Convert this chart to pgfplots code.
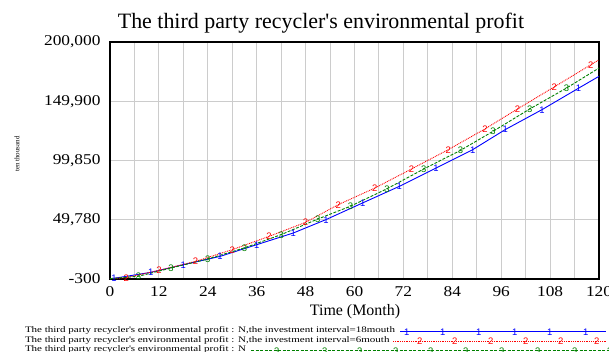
\documentclass[border=0pt]{standalone}
\usepackage{fontspec}
\setmainfont{Liberation Serif}
\newfontfamily\tickfont[FakeStretch=1.16]{Liberation Serif}
\newfontfamily\legfont[FakeStretch=1.3]{Liberation Serif}
\newfontfamily\markfont{Liberation Sans}
\usepackage{pgfplots}
\pgfplotsset{compat=1.18}
\newlength\legx
\newcommand\legtext{\legfont\fontsize{8.5}{9}\selectfont}
\newcommand\mk{\markfont\fontsize{9.5}{10}\selectfont}
\newcommand\ap{\textquotesingle}
\definecolor{cblue}{RGB}{0,0,255}
\definecolor{cred}{RGB}{255,0,0}
\definecolor{cgreen}{RGB}{0,128,0}
\begin{document}
\settowidth\legx{\legtext The third party recycler\ap s environmental profit : N,the investment interval=18mouth}%
\addtolength\legx{11bp}%
\begin{tikzpicture}
\begin{axis}[name=ax, scale only axis, width=489bp, height=237bp,
  xmin=0, xmax=120, ymin=-300, ymax=200000,
  xtick={0,12,...,120}, minor xtick={6,18,...,114},
  ytick={-300,49780,99850,149900,200000},
  yticklabels={-300,{49,780},{99,850},{149,900},{200,000}},
  scaled y ticks=false,
  /pgf/number format/assume math mode=true,
  xticklabel style={font=\tickfont\fontsize{15}{16}\selectfont, yshift=-4bp},
  yticklabel style={font=\tickfont\fontsize{15}{16}\selectfont, xshift=-6bp},
  grid=both,
  major grid style={black!20, line width=1bp},
  minor grid style={black!20, line width=1bp},
  major tick length=0pt, minor tick length=0pt,
  axis line style={line width=1.4bp},
  legend cell align=left, legend plot pos=right,
  legend style={at={(axis description cs:-0.1738,-0.2025)}, anchor=north west,
    draw=none, fill=none, inner sep=0pt, outer sep=0pt, row sep=0pt, column sep=11bp,
    font=\legtext, nodes={inner sep=0pt, text height=6bp, text depth=3.5bp}},
  text mark as node=true,
  text mark style={font=\mk, inner sep=0pt, text height=6.8bp, text depth=0pt},
]
\addplot[cblue, line width=0.9bp, mark=text, text mark={1}, mark options={solid},
  mark indices={2,3,4,5,6,7,8,9,10,11,12,13,14,15},
  legend image code/.code={
    \draw[overlay, cblue, solid, line width=0.9bp] (375bp-\legx,0pt) -- (581bp-\legx,0pt);
    \foreach \x in {379bp,415bp,451bp,487bp,522bp,558bp}{\node[overlay, text=cblue, inner sep=0pt, font=\mk, text height=6.8bp, text depth=0pt] at (\x-\legx,0pt) {1};}
  }] coordinates {
  (0,0) (1,300) (10,5300) (18,11800) (27,18800) (36,28700) (45,38600) (53,49900)
  (62,64000) (71,78000) (80,93500) (89,109000) (97,126000) (106,142800) (115,161000) (120,171000)
};
\addlegendentry{The third party recycler\ap s environmental profit : N,the investment interval=18mouth}
\addplot[cred, line width=0.9bp, dash pattern=on 0.9bp off 0.9bp, mark=text, text mark={2}, mark options={solid},
  mark indices={2,3,4,5,6,7,8,9,10,11,12,13,14,15},
  legend image code/.code={
    \draw[overlay, cred, line width=0.9bp, dash pattern=on 0.9bp off 0.9bp] (368bp-\legx,0pt) -- (581bp-\legx,0pt);
    \foreach \x in {392bp,427bp,463bp,498bp,533bp,569bp}{\node[overlay, text=cred, inner sep=0pt, font=\mk, text height=6.8bp, text depth=0pt] at (\x-\legx,0pt) {2};}
  }] coordinates {
  (0,0) (4,800) (12,7000) (21,14600) (30,24500) (39,35700) (48,47600) (56,62500)
  (65,76600) (74,92700) (83,109000) (92,126500) (100,143400) (109,162000) (118,180800) (120,185000)
};
\addlegendentry{The third party recycler\ap s environmental profit : N,the investment interval=6mouth}
\addplot[cgreen, line width=0.9bp, dash pattern=on 3bp off 1.5bp, mark=text, text mark={3}, mark options={solid},
  mark indices={2,3,4,5,6,7,8,9,10,11,12,13,14},
  legend image code/.code={
    \draw[overlay, cgreen, line width=0.9bp, dash pattern=on 3bp off 1.5bp] (226bp-\legx,0pt) -- (590bp-\legx,0pt);
    \foreach \x in {249bp,297bp,332bp,368bp,403bp,438bp,474bp,510bp,547bp,582bp}{\node[overlay, text=cgreen, inner sep=0pt, font=\mk, text height=6.8bp, text depth=0pt] at (\x-\legx,0pt) {3};}
  }] coordinates {
  (0,0) (7,2000) (15,9000) (24,16600) (33,26000) (42,37200) (51,50400) (59,61200)
  (68,76000) (77,92700) (86,108400) (94,124500) (103,143400) (112,161000) (120,178000)
};
\addlegendentry{The third party recycler\ap s environmental profit : N}
\end{axis}
\node[anchor=base, font=\fontsize{22}{24}\selectfont, inner sep=0pt] at ([shift={(211bp,250.7bp)}]ax.south west) {The third party recycler\ap s environmental profit};
\node[anchor=base, font=\fontsize{16}{18}\selectfont, inner sep=0pt] at ([shift={(245bp,-36bp)}]ax.south west) {Time (Month)};
\node[rotate=90, font=\fontsize{7}{8}\selectfont, inner sep=0pt] at ([shift={(-93bp,125bp)}]ax.south west) {ten thousand};
\pgfresetboundingbox
\path[use as bounding box] ([shift={(-110bp,-73bp)}]ax.south west) rectangle ([shift={(499bp,279bp)}]ax.south west);
\end{tikzpicture}
\end{document}
